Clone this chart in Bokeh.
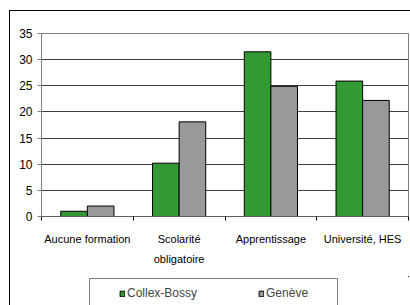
from bokeh.plotting import figure
from bokeh.models import Range1d, FixedTicker, Legend, LegendItem
from bokeh.layouts import column
from bokeh.embed import file_html
from bokeh.resources import INLINE
import numpy as np

# ---- data ----
categories = ["Aucune formation", "Scolarité\nobligatoire", "Apprentissage", "Université, HES"]
collex_bossy = [1.0, 10.2, 31.5, 25.9]
geneve = [2.0, 18.1, 24.9, 22.2]
series_names = ["Collex-Bossy", "Genève"]
y_ticks = [0, 5, 10, 15, 20, 25, 30, 35]

FONT = "Liberation Sans"
GREEN = "#339933"
GREY = "#999999"

n = len(categories)
centers = np.arange(n) + 0.5
bar_w = 0.29

# ---------- chart ----------
p = figure(width=400, height=265, output_backend="svg", toolbar_location=None,
           x_range=Range1d(0, n), y_range=Range1d(0, 35))
p.min_border = 0
p.min_border_left = 31
p.min_border_top = 22
p.min_border_right = 2
p.min_border_bottom = 60
p.outline_line_color = "#808080"
p.background_fill_color = "white"
p.border_fill_color = "white"

p.vbar(x=centers - bar_w / 2, top=collex_bossy, width=bar_w, bottom=0,
       fill_color=GREEN, line_color="black", line_width=1)
p.vbar(x=centers + bar_w / 2, top=geneve, width=bar_w, bottom=0,
       fill_color=GREY, line_color="black", line_width=1)

# x axis: labels at category centres, tick marks at boundaries
p.xaxis.ticker = FixedTicker(ticks=list(centers), minor_ticks=list(range(n + 1)))
p.xaxis.major_label_overrides = {float(c): lab for c, lab in zip(centers, categories)}
p.xaxis.major_tick_out = 0
p.xaxis.major_tick_in = 0
p.xaxis.minor_tick_out = 4
p.xaxis.minor_tick_in = 0
p.xaxis.minor_tick_line_color = "black"
p.xaxis.axis_line_color = "#606060"
p.xaxis.major_label_standoff = 12
p.xaxis.major_label_text_font = FONT
p.xaxis.major_label_text_font_size = "11px"
p.xaxis.major_label_text_color = "black"
p.xaxis.major_label_text_line_height = 1.7

# y axis
p.yaxis.ticker = FixedTicker(ticks=y_ticks)
p.yaxis.major_tick_out = 4
p.yaxis.major_tick_in = 0
p.yaxis.minor_tick_line_color = None
p.yaxis.axis_line_color = "#808080"
p.yaxis.major_tick_line_color = "#808080"
p.yaxis.major_label_standoff = 5
p.yaxis.major_label_text_font = FONT
p.yaxis.major_label_text_font_size = "12px"
p.yaxis.major_label_text_color = "black"

p.xgrid.grid_line_color = None
p.ygrid.ticker = FixedTicker(ticks=y_ticks)
p.ygrid.grid_line_color = "#404040"
p.ygrid.grid_line_width = 1

# ---------- legend strip (its swatches use the same series, kept out of view) ----------
pl = figure(width=400, height=29, output_backend="svg", toolbar_location=None,
            x_axis_location=None, y_axis_location=None,
            x_range=Range1d(-20, -19), y_range=Range1d(-20, -19))
pl.min_border = 0
pl.min_border_left = 31
pl.min_border_right = 2
pl.outline_line_color = None
pl.xgrid.grid_line_color = None
pl.ygrid.grid_line_color = None
pl.background_fill_color = "white"
pl.border_fill_color = "white"
l1 = pl.vbar(x=centers, top=collex_bossy, width=bar_w, fill_color=GREEN, line_color="black")
l2 = pl.vbar(x=centers, top=geneve, width=bar_w, fill_color=GREY, line_color="black")

legend = Legend(items=[LegendItem(label=series_names[0], renderers=[l1]),
                       LegendItem(label=series_names[1], renderers=[l2])],
                orientation="horizontal", location=(48, -3),
                padding=7, spacing=61, margin=0,
                glyph_width=6, glyph_height=7, label_standoff=2,
                label_width=64, label_height=14,
                title=" ", title_location="left", title_standoff=8,
                title_text_font_size="12px",
                border_line_color="black", border_line_width=1,
                background_fill_color="white", background_fill_alpha=1,
                label_text_font=FONT, label_text_font_size="12px")
pl.add_layout(legend, "center")

layout = column(p, pl, spacing=0)
layout.styles = {"margin-left": "9px", "margin-top": "10px",
                 "border-left": "1px solid black", "border-top": "1px solid black"}

open("out.html", "w").write(file_html(layout, INLINE))
